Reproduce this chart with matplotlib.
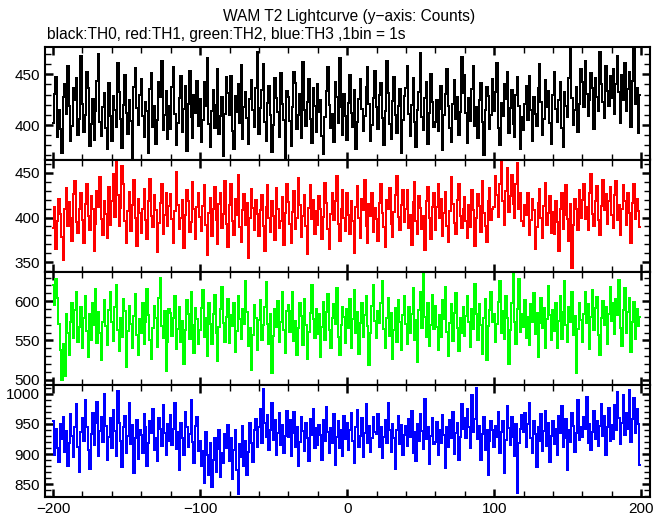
import numpy as np
import matplotlib
matplotlib.use("Agg")
import matplotlib.pyplot as plt
from matplotlib.ticker import MultipleLocator

plt.rcParams["font.family"] = ["Liberation Sans", "DejaVu Sans"]
plt.rcParams["axes.unicode_minus"] = True

# Lightcurve counts per 1 s bin (bins start at t = -200 s)
t_start = -200
th0 = [
    402, 431, 447, 388, 415, 396, 372, 428, 440, 411, 458, 419, 384, 399, 437, 425, 446, 390, 406, 468,
    421, 393, 410, 452, 437, 379, 401, 426, 385, 414, 443, 470, 403, 389, 418, 432, 397, 376, 441, 409,
    384, 429, 415, 398, 461, 433, 406, 377, 420, 449, 412, 391, 425, 404, 367, 438, 456, 417, 400, 430,
    445, 409, 388, 423, 414, 372, 436, 451, 398, 419, 381, 405, 442, 428, 463, 395, 410, 434, 386, 419,
    396, 438, 457, 411, 380, 402, 427, 448, 393, 416, 439, 374, 421, 453, 408, 387, 430, 412, 443, 399,
    426, 383, 405, 442, 419, 466, 401, 378, 414, 435, 397, 420, 455, 391, 409, 428, 369, 411, 447, 432,
    410, 448, 394, 376, 429, 413, 440, 402, 459, 386, 418, 433, 407, 381, 426, 444, 415, 398, 437, 472,
    391, 417, 435, 460, 403, 384, 422, 439, 410, 373, 400, 446, 427, 413, 388, 451, 421, 405, 366, 434,
    428, 404, 379, 418, 452, 441, 396, 410, 431, 387, 462, 415, 399, 423, 445, 406, 382, 437, 419, 393,
    440, 413, 425, 389, 371, 408, 434, 457, 420, 397, 411, 383, 442, 428, 402, 466, 418, 390, 431, 409,
    385, 422, 449, 412, 398, 435, 376, 403, 426, 445, 416, 394, 409, 438, 457, 421, 384, 400, 427, 453,
    418, 396, 430, 441, 407, 380, 414, 463, 432, 401, 386, 424, 447, 410, 392, 419, 436, 372, 405, 429,
    437, 458, 411, 389, 420, 446, 403, 378, 415, 433, 471, 408, 395, 427, 442, 381, 412, 450, 423, 398,
    403, 425, 394, 416, 439, 375, 410, 431, 455, 419, 397, 383, 421, 444, 406, 428, 390, 413, 467, 432,
    449, 412, 382, 427, 404, 436, 458, 399, 418, 387, 425, 441, 403, 370, 415, 438, 429, 396, 410, 445,
    414, 433, 461, 397, 380, 422, 409, 440, 426, 452, 392, 417, 435, 401, 388, 430, 447, 419, 376, 408,
    395, 421, 439, 405, 448, 415, 384, 428, 411, 399, 437, 460, 423, 390, 406, 444, 418, 434, 402, 381,
    430, 452, 416, 403, 425, 442, 397, 378, 433, 419, 408, 446, 475, 427, 400, 415, 438, 393, 421, 455,
    442, 418, 463, 431, 409, 425, 451, 437, 396, 446, 428, 414, 472, 440, 423, 407, 458, 434, 419, 448,
    427, 455, 411, 440, 468, 433, 402, 449, 425, 461, 414, 436, 452, 398, 443, 476, 421, 437, 392, 430,
]
th1 = [
    388, 412, 365, 396, 421, 404, 378, 352, 409, 433, 391, 417, 399, 374, 426, 441, 395, 383, 410, 428,
    397, 371, 415, 438, 402, 386, 424, 409, 362, 393, 430, 412, 445, 398, 380, 419, 404, 377, 434, 392,
    418, 449, 401, 463, 425, 390, 411, 458, 437, 396, 372, 407, 429, 385, 414, 442, 399, 368, 421, 405,
    383, 410, 432, 397, 376, 419, 443, 402, 389, 425, 408, 361, 394, 416, 437, 381, 403, 427, 391, 413,
    426, 398, 372, 407, 451, 414, 387, 399, 420, 366, 403, 431, 418, 384, 395, 440, 409, 376, 412, 428,
    401, 385, 413, 436, 392, 358, 405, 422, 379, 410, 434, 397, 370, 415, 428, 388, 404, 441, 393, 367,
    414, 437, 396, 380, 421, 403, 448, 389, 373, 408, 426, 392, 416, 355, 399, 432, 411, 386, 420, 404,
    379, 408, 425, 391, 363, 412, 436, 400, 384, 419, 402, 375, 433, 410, 388, 396, 423, 369, 405, 438,
    417, 393, 371, 406, 430, 387, 399, 444, 414, 378, 402, 425, 390, 359, 411, 436, 398, 420, 382, 407,
    392, 424, 409, 376, 401, 439, 416, 387, 365, 404, 428, 397, 419, 446, 393, 374, 410, 431, 400, 385,
    427, 403, 381, 418, 396, 360, 412, 435, 399, 377, 421, 408, 442, 390, 372, 415, 402, 428, 384, 411,
    398, 374, 416, 437, 405, 389, 367, 420, 410, 433, 393, 378, 406, 425, 447, 401, 386, 414, 431, 395,
    409, 431, 388, 403, 369, 417, 440, 396, 382, 424, 411, 387, 402, 364, 418, 434, 399, 376, 412, 427,
    386, 412, 438, 400, 421, 379, 405, 429, 391, 373, 407, 445, 415, 394, 381, 420, 437, 402, 388, 410,
    423, 396, 377, 414, 389, 431, 408, 368, 400, 426, 413, 384, 441, 405, 390, 373, 418, 433, 397, 409,
    412, 446, 425, 401, 438, 463, 419, 392, 430, 455, 406, 424, 448, 415, 399, 437, 461, 410, 427, 396,
    391, 414, 403, 427, 380, 397, 421, 408, 365, 389, 416, 432, 400, 377, 413, 439, 392, 405, 424, 383,
    406, 381, 419, 395, 362, 410, 428, 387, 403, 436, 398, 374, 415, 344, 392, 421, 409, 386, 431, 400,
    420, 437, 398, 412, 386, 428, 449, 404, 391, 418, 435, 397, 380, 413, 442, 408, 426, 393, 419, 434,
    403, 388, 425, 441, 397, 414, 380, 409, 436, 419, 392, 427, 405, 371, 416, 438, 398, 421, 407, 389,
]
th2 = [
    620, 595, 628, 604, 571, 538, 500, 546, 505, 583, 560, 531, 574, 597, 553, 589, 612, 548, 567, 593,
    541, 578, 606, 562, 529, 584, 551, 597, 570, 615, 547, 586, 559, 525, 573, 601, 568, 544, 589, 612,
    574, 549, 592, 621, 563, 536, 578, 555, 603, 587, 516, 562, 594, 571, 540, 581, 609, 557, 532, 577,
    560, 598, 545, 573, 615, 582, 551, 527, 566, 594, 579, 542, 604, 630, 568, 553, 587, 511, 548, 590,
    585, 556, 578, 607, 539, 565, 592, 548, 575, 520, 563, 601, 583, 552, 612, 569, 534, 591, 577, 546,
    563, 591, 614, 554, 578, 530, 597, 571, 546, 583, 608, 559, 524, 567, 590, 618, 572, 548, 580, 603,
    547, 582, 568, 598, 535, 562, 606, 577, 552, 590, 571, 625, 586, 543, 566, 513, 557, 595, 579, 538,
    576, 602, 550, 569, 593, 624, 571, 545, 583, 508, 556, 590, 567, 600, 548, 574, 611, 563, 534, 588,
    595, 561, 587, 612, 549, 575, 532, 566, 598, 581, 544, 603, 570, 526, 561, 585, 620, 577, 553, 590,
    558, 584, 529, 567, 599, 551, 586, 609, 563, 540, 578, 596, 571, 617, 555, 532, 569, 593, 580, 547,
    590, 566, 603, 541, 577, 614, 559, 586, 533, 572, 598, 555, 582, 607, 568, 519, 560, 594, 621, 575,
    553, 588, 572, 598, 626, 565, 541, 579, 604, 556, 585, 527, 563, 591, 548, 601, 574, 538, 582, 606,
    571, 545, 592, 560, 583, 617, 550, 576, 522, 589, 611, 566, 634, 580, 554, 597, 543, 570, 608, 564,
    594, 567, 538, 582, 555, 601, 577, 618, 561, 530, 572, 596, 549, 585, 610, 566, 537, 579, 559, 593,
    556, 581, 606, 573, 542, 590, 564, 622, 584, 551, 596, 570, 533, 578, 603, 525, 568, 589, 612, 574,
    583, 548, 571, 599, 625, 560, 587, 552, 606, 579, 520, 563, 597, 636, 574, 546, 590, 628, 561, 584,
    567, 601, 553, 580, 544, 596, 573, 610, 558, 585, 529, 572, 604, 566, 591, 540, 577, 619, 582, 551,
    589, 562, 598, 541, 575, 607, 552, 586, 626, 569, 548, 593, 574, 612, 557, 581, 509, 564, 597, 576,
    548, 583, 611, 572, 596, 539, 580, 614, 563, 591, 605, 557, 531, 578, 600, 569, 592, 546, 584, 618,
    575, 597, 558, 603, 582, 627, 566, 543, 589, 617, 560, 586, 604, 535, 573, 599, 552, 590, 568, 580,
]
th3 = [
    955, 898, 942, 910, 887, 950, 925, 962, 903, 938, 880, 918, 966, 930, 895, 944, 982, 912, 870, 936,
    960, 921, 990, 945, 906, 875, 933, 968, 915, 951, 986, 897, 938, 962, 920, 1000, 947, 890, 928, 959,
    910, 973, 938, 896, 1004, 952, 921, 878, 945, 963, 902, 930, 985, 917, 948, 868, 926, 957, 892, 940,
    931, 902, 967, 944, 880, 918, 955, 935, 975, 906, 926, 889, 960, 942, 913, 981, 934, 899, 950, 922,
    964, 915, 941, 985, 908, 936, 874, 952, 927, 898, 969, 944, 912, 933, 990, 920, 886, 947, 961, 905,
    921, 880, 905, 852, 937, 898, 866, 919, 845, 890, 926, 871, 908, 940, 862, 901, 885, 933, 910, 948,
    889, 926, 858, 907, 940, 873, 834, 916, 895, 947, 880, 921, 866, 903, 952, 918, 887, 939, 958, 911,
    944, 975, 918, 1008, 952, 929, 964, 907, 940, 985, 923, 956, 898, 934, 968, 915, 948, 902, 930, 972,
    928, 957, 896, 935, 970, 912, 945, 881, 920, 962, 938, 905, 951, 926, 889, 958, 932, 975, 910, 943,
    915, 948, 931, 890, 956, 922, 978, 936, 901, 943, 919, 967, 882, 928, 954, 910, 940, 897, 963, 925,
    952, 906, 939, 968, 921, 886, 944, 973, 912, 930, 959, 895, 935, 982, 918, 947, 903, 926, 961, 937,
    933, 966, 911, 945, 893, 928, 957, 918, 985, 940, 904, 950, 927, 876, 939, 963, 916, 948, 899, 931,
    947, 914, 958, 929, 972, 902, 936, 889, 950, 921, 967, 938, 908, 991, 925, 944, 883, 930, 960, 917,
    920, 953, 898, 940, 918, 965, 931, 877, 944, 912, 956, 926, 970, 900, 935, 952, 890, 928, 983, 941,
    959, 926, 974, 945, 910, 998, 936, 958, 1010, 925, 947, 891, 933, 962, 907, 940, 866, 921, 954, 939,
    911, 946, 928, 970, 902, 937, 955, 868, 924, 980, 943, 915, 961, 929, 897, 950, 836, 918, 942, 965,
    936, 968, 912, 949, 985, 927, 901, 955, 933, 878, 944, 921, 966, 905, 938, 972, 914, 951, 887, 930,
    955, 917, 942, 898, 963, 935, 980, 911, 926, 958, 873, 939, 920, 968, 947, 903, 934, 990, 924, 945,
    928, 962, 941, 994, 918, 950, 906, 937, 971, 925, 955, 913, 946, 982, 930, 963, 899, 944, 976, 921,
    948, 925, 981, 939, 1003, 960, 916, 952, 997, 931, 968, 942, 1006, 920, 958, 993, 935, 975, 950, 882,
]

series = [th0, th1, th2, th3]
colors = ["black", "red", "#00ff00", "blue"]
ylims = [(366, 477), (339, 465), (494, 637), (829, 1015)]
yticks = [[400, 450], [350, 400, 450], [500, 550, 600], [850, 900, 950, 1000]]

fig = plt.figure(figsize=(6.69, 5.15), dpi=100)
left, right = 45 / 669, 650 / 669
top, bottom = 1 - 47 / 515, 1 - 497 / 515
h = (top - bottom) / 4

axes = []
for i, (vals, c) in enumerate(zip(series, colors)):
    ax = fig.add_axes([left, top - (i + 1) * h, right - left, h])
    t = t_start + np.arange(len(vals))
    ax.plot(t, vals, color=c, lw=1.35, drawstyle="steps-mid", antialiased=False)
    ax.set_xlim(-205.5, 206)
    ax.set_ylim(*ylims[i])
    ax.set_yticks(yticks[i])
    ax.yaxis.set_minor_locator(MultipleLocator(10))
    ax.xaxis.set_major_locator(MultipleLocator(100))
    ax.xaxis.set_minor_locator(MultipleLocator(20))
    ax.tick_params(which="both", direction="in", top=True, right=True, labelsize=11)
    ax.tick_params(which="major", length=6, width=1.8)
    ax.tick_params(which="minor", length=4, width=1.0)
    for s in ax.spines.values():
        s.set_linewidth(1.5)
    if i < 3:
        ax.tick_params(labelbottom=False)
    axes.append(ax)

fig.text(0.522, 1 - 17 / 515, "WAM T2 Lightcurve (y\u2212axis: Counts)",
         ha="center", va="center", fontsize=11.2)
fig.text(47 / 669, 1 - 35 / 515, "black:TH0, red:TH1, green:TH2, blue:TH3 ,1bin = 1s",
         ha="left", va="center", fontsize=11.2)

fig.savefig("out.png", dpi=100)
